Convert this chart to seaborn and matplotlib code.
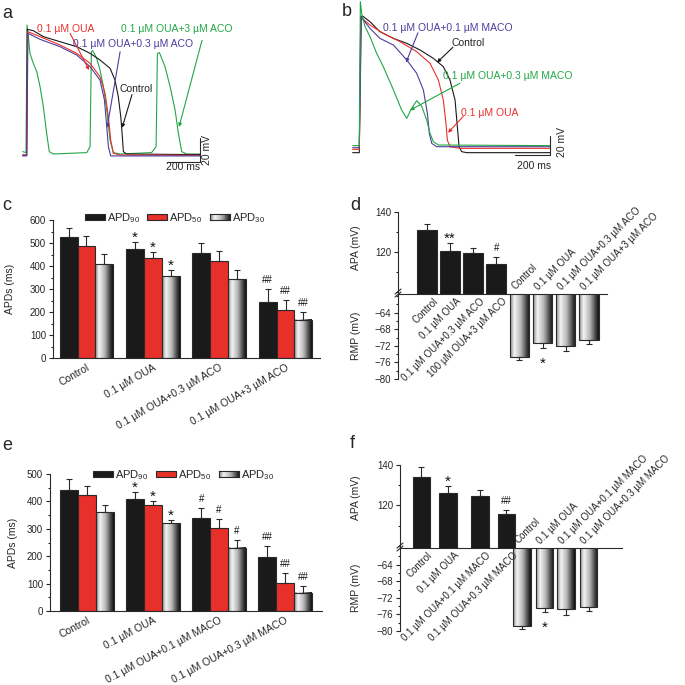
import numpy as np
import pandas as pd
import matplotlib
matplotlib.use("Agg")
import matplotlib.pyplot as plt
from matplotlib.colors import LinearSegmentedColormap
from matplotlib.lines import Line2D
from matplotlib.patches import Rectangle
import seaborn as sns

# ---------- panel a: action potentials (ms, mV)
a_ctrl_t = [-26, -2, 2, 38, 99, 200, 301, 382, 442, 503, 533, 553, 568, 576, 584, 604, 1048]
a_ctrl_v = [-85, -85, 58.6, 57.1, 50.3, 44.5, 38.8, 31.2, 23.6, 14.1, 0.7, -18.3, -41.2, -60.2, -81.2, -83.9, -84.6]
a_oua_t = [-26, -2, 4, 79, 200, 301, 382, 442, 473, 493, 507, 523, 564, 1048]
a_oua_v = [-85.4, -85.4, 56, 50.3, 40.7, 31.2, 19.8, 4.5, -14.5, -41.2, -67.9, -83.1, -85, -85.4]
a_aco03_t = [-26, -2, 6, 79, 200, 301, 382, 442, 469, 483, 493, 507, 1048]
a_aco03_v = [-86.1, -86.1, 54.1, 47.2, 38.8, 29.3, 16, 0.7, -22.1, -52.6, -75.5, -86.1, -86.1]
a_aco3_t = [-26, -6, 0, 8, 18, 38, 59, 79, 99, 119, 135, 160, 362, 382, 390, 398, 422, 442, 463,
            483, 503, 523, 564, 755, 782, 790, 802, 836, 867, 897, 917, 937, 968, 1048]
a_aco3_v = [-81.2, -82.3, 63.6, 50.3, 31.2, 19.8, 10.3, -6.9, -29.8, -60.2, -81.2, -83.9, -82.3, -75.5,
            33.1, 34.3, 25.5, 12.2, -6.9, -33.6, -67.9, -82.3, -83.9, -82.3, -75.5, 31.2, 32, 16,
            -6.9, -33.6, -60.2, -81.2, -83.9, -83.9]

# ---------- panel b: action potentials (ms, mV)
b_ctrl_t = [-42, -4, 4, 15, 57, 114, 191, 267, 343, 419, 476, 514, 543, 556, 566, 581, 610, 1086]
b_ctrl_v = [-86.1, -86.1, 64.9, 65.6, 59.3, 48.2, 40.8, 35.3, 27.9, 18.6, 9.4, -5.5, -27.7, -57.3, -79.5, -85, -86.1, -86.1]
b_oua_t = [-42, -4, 6, 57, 133, 229, 324, 400, 448, 476, 491, 499, 514, 572, 1086]
b_oua_v = [-82.4, -82.4, 64.1, 55.6, 46.4, 37.1, 26, 13.1, -5.5, -27.7, -53.6, -72.1, -79.5, -81.3, -81.3]
b_maco01_t = [-42, -4, 8, 57, 114, 191, 267, 324, 362, 385, 396, 410, 438, 1086]
b_maco01_v = [-80.6, -80.6, 64.1, 51.9, 40.8, 33.4, 16.8, 2, -16.5, -42.4, -64.7, -75.8, -79.5, -79.5]
b_maco03_t = [-42, -4, 2, 11, 29, 57, 95, 133, 191, 238, 267, 295, 324, 352, 381, 400, 419, 448, 1086]
b_maco03_v = [-78.3, -78.3, 81.5, 66.7, 53.8, 42.7, 24.2, 9.4, -16.5, -38.8, -48, -36.9, -28.4, -34.3,
              -49.9, -64.7, -73.9, -77.6, -78.3]

# ---------- panel c: APDs with ACO
c_groups = ["Control", "0.1 µM OUA", "0.1 µM OUA+0.3 µM ACO", "0.1 µM OUA+3 µM ACO"]
c_apd90 = [525, 472, 455, 242]
c_apd90_err = [39, 31, 44, 57]
c_apd50 = [488, 436, 420, 207]
c_apd50_err = [44, 25, 44, 44]
c_apd30 = [407, 355, 342, 167]
c_apd30_err = [46, 29, 41, 33]
c_marks = ["", "*", "", "##"]

# ---------- panel d: APA / RMP with ACO
d_apa_labels = ["Control", "0.1 µM OUA", "0.1 µM OUA+0.3 µM ACO", "100 µM OUA+3 µM ACO"]
d_rmp_labels = ["Control", "0.1 µM OUA", "0.1 µM OUA+0.3 µM ACO", "0.1 µM OUA+3 µM ACO"]
d_apa = [131.0, 120.7, 119.3, 113.8]
d_apa_err = [2.8, 4.0, 2.5, 3.5]
d_rmp = [-74.6, -71.3, -72.1, -70.6]
d_rmp_err = [0.9, 1.3, 1.2, 1.0]
d_apa_marks = ["", "**", "", "#"]
d_rmp_marks = ["", "*", "", ""]

# ---------- panel e: APDs with MACO
e_groups = ["Control", "0.1 µM OUA", "0.1 µM OUA+0.1 µM MACO", "0.1 µM OUA+0.3 µM MACO"]
e_apd90 = [441, 409, 338, 198]
e_apd90_err = [40, 24, 39, 39]
e_apd50 = [423, 387, 302, 103]
e_apd50_err = [33, 16, 34, 35]
e_apd30 = [360, 320, 231, 67]
e_apd30_err = [26, 12, 28, 24]
e_marks = ["", "*", "#", "##"]

# ---------- panel f: APA / RMP with MACO
f_labels = ["Control", "0.1 µM OUA", "0.1 µM OUA+0.1 µM MACO", "0.1 µM OUA+0.3 µM MACO"]
f_apa = [134.0, 126.2, 124.5, 115.6]
f_apa_err = [4.9, 3.2, 3.0, 2.0]
f_rmp = [-78.7, -74.5, -74.6, -74.3]
f_rmp_err = [0.9, 1.0, 1.5, 0.9]
f_apa_marks = ["", "*", "", "##"]
f_rmp_marks = ["", "*", "", ""]

apd_names = ["APD$_{90}$", "APD$_{50}$", "APD$_{30}$"]

BLACK = "#1a1a1a"
RED = "#e8302a"
PURPLE = "#4f3c9c"
GREEN = "#23a646"
EDGE = "#2a2a2a"
FS = 7.5

sns.set_style("ticks")
plt.rcParams["font.family"] = ["Liberation Sans", "DejaVu Sans"]
plt.rcParams["mathtext.fontset"] = "custom"
plt.rcParams["mathtext.rm"] = "Liberation Sans"
plt.rcParams["mathtext.it"] = "Liberation Sans"

grad_cmap = LinearSegmentedColormap.from_list(
    "apd30", [(0, "#8a8a8a"), (0.22, "#f4f4f4"), (0.55, "#b4b4b4"), (0.85, "#404040"), (1, "#111111")])
GRAD = np.linspace(0, 1, 64).reshape(1, -1)

W = H = 685
fig = plt.figure(figsize=(6.85, 6.85), dpi=100)


def box(left, top, right, bottom):
    return [left / W, 1 - bottom / H, (right - left) / W, (bottom - top) / H]


def figText(x, y, s, **kw):
    fig.text(x / W, 1 - y / H, s, **kw)


def figLine(xs, ys):
    fig.add_artist(Line2D([x / W for x in xs], [1 - y / H for y in ys], color=EDGE, lw=0.8))


def gradientFill(ax, bar):
    bar.set_facecolor("none")
    x0, y0, w, h = bar.get_x(), bar.get_y(), bar.get_width(), bar.get_height()
    im = ax.imshow(GRAD, extent=[x0, x0 + w, min(y0, y0 + h), max(y0, y0 + h)], aspect="auto",
                   cmap=grad_cmap, vmin=0, vmax=1, zorder=bar.get_zorder() - 0.01, interpolation="bilinear")
    im.set_clip_path(bar)
    im.set_clip_box(ax.bbox)


def addMark(ax, x, y, mark, below=False):
    if not mark:
        return
    if mark.startswith("*"):
        size, off = 11, (-6 if below else -2)
    else:
        size, off = 7, 3
    ax.annotate(mark, (x, y), xytext=(0, off), textcoords="offset points", ha="center",
                va="top" if below else "bottom", fontsize=size, color="#111")


def traceAxes(rect, xlim, ylim):
    ax = fig.add_axes(rect)
    ax.set_xlim(xlim)
    ax.set_ylim(ylim)
    ax.axis("off")
    return ax


def drawTraces(ax, traces):
    for t, v, color in traces:
        sns.lineplot(x=t, y=v, color=color, lw=0.8, sort=False, estimator=None, ax=ax)


def arrow(ax, start, tip, color):
    ax.annotate("", xy=tip, xytext=start,
                arrowprops=dict(arrowstyle="-|>", color=color, lw=0.8, mutation_scale=5, shrinkA=0, shrinkB=0))


def scaleBar(ax, t_end, v_low, v_high, ms_xy, mv_xy):
    ax.plot([t_end - 200, t_end, t_end], [v_low, v_low, v_high], color=EDGE, lw=0.8)
    ax.text(*ms_xy, "200 ms", ha="center", va="top", fontsize=FS)
    ax.text(*mv_xy, "20 mV", ha="center", va="center", rotation=90, fontsize=FS)


def apdLegend(items):
    colors = [BLACK, RED, None]
    for (x, y), name, color in zip(items, apd_names, colors):
        if color is None:
            lax = fig.add_axes(box(x, y - 3, x + 20, y + 3))
            lax.imshow(GRAD, aspect="auto", cmap=grad_cmap, vmin=0, vmax=1)
            lax.set_xticks([])
            lax.set_yticks([])
            for s in lax.spines.values():
                s.set_color(EDGE)
                s.set_linewidth(0.8)
        else:
            fig.add_artist(Rectangle((x / W, 1 - (y + 3) / H), 20 / W, 6 / H, facecolor=color,
                                     edgecolor=EDGE, lw=0.8, transform=fig.transFigure))
        figText(x + 22, y + 1, name, ha="left", va="center", fontsize=8)


def apdPanel(rect, groups, series, errs, marks, ymax, ystep, xlim, ylabel_x, rot):
    ax = fig.add_axes(rect)
    rows = []
    for name, vals in zip(apd_names, series):
        for g, v in zip(groups, vals):
            rows.append({"group": g, "series": name, "value": v})
    df = pd.DataFrame(rows)
    sns.barplot(data=df, x="group", y="value", hue="series", palette=[BLACK, RED, "#999999"],
                saturation=1, errorbar=None, width=0.81, edgecolor=EDGE, linewidth=0.8,
                legend=False, ax=ax)
    bar_sets = list(ax.containers)
    for i, cont in enumerate(bar_sets):
        for bar, err, mark in zip(cont, errs[i], marks):
            x = bar.get_x() + bar.get_width() / 2
            top = bar.get_height()
            ax.errorbar(x, top, yerr=[[0], [err]], fmt="none", ecolor=EDGE, elinewidth=0.8,
                        capsize=2.5, capthick=0.8)
            addMark(ax, x, top + err, mark)
            if i == 2:
                gradientFill(ax, bar)
    ax.set_xlim(xlim)
    ax.set_ylim(0, ymax)
    ax.set_yticks(np.arange(0, ymax + 1, ystep))
    ax.set_yticks(np.arange(0, ymax + 1, ystep / 2), minor=True)
    ax.tick_params(axis="y", labelsize=7, length=3, width=0.8, pad=2)
    ax.tick_params(axis="y", which="minor", length=1.5, width=0.8)
    ax.set_xticks(range(len(groups)))
    ax.set_xticklabels(groups, rotation=rot, ha="right", rotation_mode="anchor", fontsize=FS)
    ax.tick_params(axis="x", length=0, pad=3)
    ax.set_xlabel("")
    ax.set_ylabel("APDs (ms)", fontsize=FS)
    ax.yaxis.set_label_coords(ylabel_x, 0.5)
    sns.despine(ax=ax)
    for s in ax.spines.values():
        s.set_linewidth(0.8)
        s.set_color(EDGE)
    return ax


def brokenPanel(top_rect, bot_rect, pos_top, pos_bot, bar_w, apa, apa_err, rmp, rmp_err,
                apa_marks, rmp_marks, top_labels, bot_labels, xlim, rmp_top, label_x, label_y):
    tax = fig.add_axes(top_rect)
    bax = fig.add_axes(bot_rect)
    sns.barplot(x=pos_top, y=apa, native_scale=True, width=bar_w / np.min(np.diff(pos_top)),
                color=BLACK, saturation=1, edgecolor=EDGE, linewidth=0.8, errorbar=None, ax=tax)
    sns.barplot(x=pos_bot, y=rmp, native_scale=True, width=bar_w / np.min(np.diff(pos_bot)),
                color="#999999", saturation=1, edgecolor=EDGE, linewidth=0.8, errorbar=None, ax=bax)
    for bar, v, e, m in zip(list(tax.patches), apa, apa_err, apa_marks):
        x = bar.get_x() + bar.get_width() / 2
        tax.errorbar(x, v, yerr=[[0], [e]], fmt="none", ecolor=EDGE, elinewidth=0.8, capsize=2.5, capthick=0.8)
        addMark(tax, x, v + e, m)
    for bar, v, e, m in zip(list(bax.patches), rmp, rmp_err, rmp_marks):
        x = bar.get_x() + bar.get_width() / 2
        bax.errorbar(x, v, yerr=[[e], [0]], fmt="none", ecolor=EDGE, elinewidth=0.8, capsize=2.5, capthick=0.8)
        addMark(bax, x, v - e, m, below=True)
        gradientFill(bax, bar)
    tax.set_xlim(xlim)
    bax.set_xlim(xlim)
    tax.set_ylim(99, 140)
    bax.set_ylim(-80, rmp_top)
    tax.set_yticks([120, 140])
    tax.set_yticks([100, 110, 130], minor=True)
    bax.set_yticks([-80, -76, -72, -68, -64])
    bax.set_yticks(np.arange(-80, rmp_top, 2), minor=True)
    for ax in (tax, bax):
        ax.set_xticks([])
        ax.set_xlabel("")
        ax.tick_params(axis="y", labelsize=7, length=3, width=0.8, pad=2)
        ax.tick_params(axis="y", which="minor", length=1.5, width=0.8)
        for s in ax.spines.values():
            s.set_linewidth(0.8)
            s.set_color(EDGE)
        ax.spines["right"].set_visible(False)
        ax.spines["bottom"].set_visible(False)
    tax.spines["top"].set_visible(False)
    tax.set_ylabel("APA (mV)", fontsize=FS)
    tax.yaxis.set_label_coords(label_x, label_y[0])
    bax.set_ylabel("RMP (mV)", fontsize=FS)
    bax.yaxis.set_label_coords(label_x, label_y[1])
    for p, lab in zip(pos_top, top_labels):
        bax.text(p + 0.25, rmp_top - 0.6, lab, rotation=45, ha="right", va="top",
                 rotation_mode="anchor", fontsize=7)
    for p, lab in zip(pos_bot, bot_labels):
        tax.text(p - 0.1, 100.2, lab, rotation=45, ha="left", va="bottom",
                 rotation_mode="anchor", fontsize=7)
    return tax, bax


# ---------- a
ax_a = traceAxes(box(20, 20, 235, 175), (-42.4, 1260), (-107.9, 69.3))
drawTraces(ax_a, [(a_aco3_t, a_aco3_v, GREEN), (a_ctrl_t, a_ctrl_v, BLACK),
                  (a_oua_t, a_oua_v, RED), (a_aco03_t, a_aco03_v, PURPLE)])
ax_a.text(236, 59, "0.1 µM OUA", color=RED, ha="center", va="center", fontsize=FS)
arrow(ax_a, (261, 54), (376, 12), RED)
ax_a.text(642, 42, "0.1 µM OUA+0.3 µM ACO", color=PURPLE, ha="center", va="center", fontsize=FS)
arrow(ax_a, (564, 33), (485, -54), PURPLE)
ax_a.text(909, 59, "0.1 µM OUA+3 µM ACO", color=GREEN, ha="center", va="center", fontsize=FS)
arrow(ax_a, (1060, 46), (921, -53), GREEN)
ax_a.text(660, -10, "Control", color="#222", ha="center", va="center", fontsize=FS)
arrow(ax_a, (636, -16), (576, -54), BLACK)
scaleBar(ax_a, 1048, -92.6, -65.6, (948, -93.5), (1091, -79))

# ---------- b
ax_b = traceAxes(box(345, 0, 600, 175), (-85.7, 1371), (-110.9, 83.4))
drawTraces(ax_b, [(b_ctrl_t, b_ctrl_v, BLACK), (b_oua_t, b_oua_v, RED),
                  (b_maco01_t, b_maco01_v, PURPLE), (b_maco03_t, b_maco03_v, GREEN)])
ax_b.text(503, 52, "0.1 µM OUA+0.1 µM MACO", color=PURPLE, ha="center", va="center", fontsize=FS)
arrow(ax_b, (331, 47), (263, 14), PURPLE)
ax_b.text(617, 36, "Control", color="#222", ha="center", va="center", fontsize=FS)
arrow(ax_b, (531, 31), (440, 14), BLACK)
ax_b.text(846, -1, "0.1 µM OUA+0.3 µM MACO", color=GREEN, ha="center", va="center", fontsize=FS)
arrow(ax_b, (571, -9), (286, -39), GREEN)
ax_b.text(743, -42, "0.1 µM OUA", color=RED, ha="center", va="center", fontsize=FS)
arrow(ax_b, (589, -46), (503, -64), RED)
scaleBar(ax_b, 1086, -88.7, -67.6, (996, -95.5), (1152, -74))

# ---------- c
apdPanel(box(53, 220, 320, 358), c_groups, [c_apd90, c_apd50, c_apd30],
         [c_apd90_err, c_apd50_err, c_apd30_err], c_marks, 600, 100, (-0.505, 3.52), -0.142, 30)
apdLegend([(85, 217), (147, 217), (210, 217)])

# ---------- d
brokenPanel(box(398, 212, 607, 294), box(398, 294, 607, 379), np.arange(4), np.arange(4, 8), 0.85,
            d_apa, d_apa_err, d_rmp, d_rmp_err, d_apa_marks, d_rmp_marks,
            d_apa_labels, d_rmp_labels, (-1.255, 7.79), -59.5, -0.178, (0.57, 0.51))
figLine([395, 401], [297, 292])
figLine([395, 401], [294, 289])

# ---------- e
apdPanel(box(50, 474, 322, 611), e_groups, [e_apd90, e_apd50, e_apd30],
         [e_apd90_err, e_apd50_err, e_apd30_err], e_marks, 500, 100, (-0.56, 3.56), -0.118, 28)
apdLegend([(93, 474), (156, 474), (219, 474)])

# ---------- f
brokenPanel(box(400, 465, 622, 548), box(400, 548, 622, 631),
            np.array([0, 1.19, 2.62, 3.81]), np.array([4.51, 5.52, 6.48, 7.49]), 0.79,
            f_apa, f_apa_err, f_rmp, f_rmp_err, f_apa_marks, f_rmp_marks,
            f_labels, f_labels, (-0.96, 8.99), -60, -0.177, (0.61, 0.52))
figLine([397, 403], [551, 546])
figLine([397, 403], [548, 543])

# ---------- panel letters
for x, y, s in [(7, 13, "a"), (347, 12, "b"), (7, 205, "c"), (355, 205, "d"), (7, 445, "e"), (352, 443, "f")]:
    figText(x, y, s, ha="center", va="center", fontsize=13)

fig.savefig("out.png", dpi=100)
